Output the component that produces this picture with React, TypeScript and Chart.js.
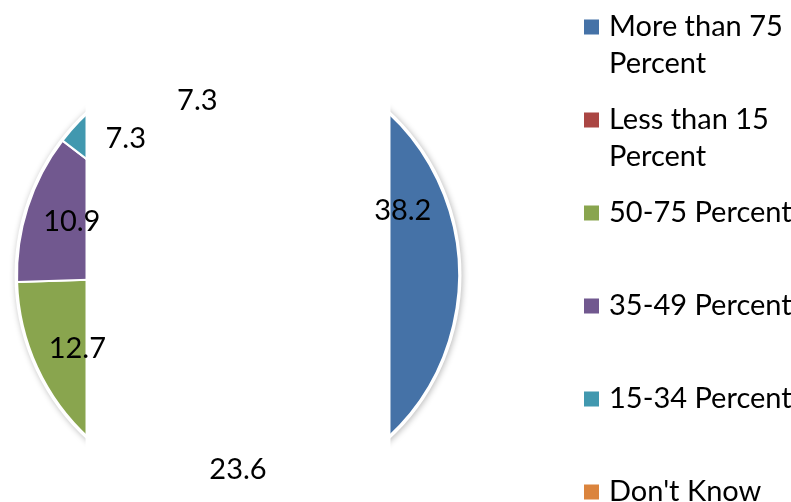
import React, { useEffect, useRef } from "react";
import { Chart, registerables } from "chart.js";

Chart.register(...registerables);

// Share of respondents by category (percent)
const categories = [
  "More than 75 Percent",
  "Less than 15 Percent",
  "50-75 Percent",
  "35-49 Percent",
  "15-34 Percent",
  "Don't Know",
];
const shares = [38.2, 23.6, 12.7, 10.9, 7.3, 7.3];
const sliceColors = ["#4572A7", "#AA4643", "#89A54E", "#71588F", "#4198AF", "#DB843D"];

const FONT = "Lato, 'Open Sans', sans-serif";
const FONT_SIZE = 29;

// Soft halo with a white rim behind the pie
const rimPlugin = {
  id: "rim",
  beforeDatasetsDraw(chart: any) {
    const arc = chart.getDatasetMeta(0).data[0];
    if (!arc) return;
    const { x, y, outerRadius } = arc.getProps(["x", "y", "outerRadius"], true);
    const ctx = chart.ctx;
    ctx.save();
    ctx.shadowColor = "rgba(0,0,0,0.28)";
    ctx.shadowBlur = 6;
    ctx.shadowOffsetX = 1;
    ctx.shadowOffsetY = 1;
    ctx.fillStyle = "#ffffff";
    ctx.beginPath();
    ctx.arc(x, y, outerRadius + 2.5, 0, Math.PI * 2);
    ctx.fill();
    ctx.restore();
  },
};

// White panel across the middle of the pie, then the value labels on top
const panelAndLabelsPlugin = {
  id: "panelAndLabels",
  afterDatasetsDraw(chart: any, _args: any, opts: any) {
    const meta = chart.getDatasetMeta(0);
    const first = meta.data[0];
    if (!first) return;
    const { x: cx, outerRadius: r } = first.getProps(["x", "outerRadius"], true);
    const ctx = chart.ctx;
    ctx.save();
    const half = r * opts.panelRatio;
    ctx.fillStyle = "#ffffff";
    ctx.fillRect(cx - half, 0, half * 2, chart.height);

    ctx.fillStyle = "#000000";
    ctx.font = `${FONT_SIZE}px ${FONT}`;
    ctx.textAlign = "center";
    ctx.textBaseline = "middle";
    const values = chart.data.datasets[0].data as number[];
    meta.data.forEach((el: any, i: number) => {
      const p = el.getProps(["x", "y", "startAngle", "endAngle", "outerRadius"], true);
      const mid = (p.startAngle + p.endAngle) / 2;
      const k = opts.labelRatios[i] ?? 0.8;
      const lx = p.x + Math.cos(mid) * p.outerRadius * k;
      const ly = p.y + Math.sin(mid) * p.outerRadius * k;
      ctx.fillText(values[i].toFixed(1), lx, ly);
    });
    ctx.restore();
  },
};

// Legend drawn at the right, one fixed-height slot per category, text wrapped
const sideLegendPlugin = {
  id: "sideLegend",
  afterDraw(chart: any, _args: any, opts: any) {
    const ctx = chart.ctx;
    const labels = chart.data.labels as string[];
    const colors = chart.data.datasets[0].backgroundColor as string[];
    ctx.save();
    ctx.font = `${FONT_SIZE}px ${FONT}`;
    ctx.textBaseline = "middle";
    ctx.textAlign = "left";
    const maxW = chart.width - opts.textX + 8;
    labels.forEach((label, i) => {
      const y0 = opts.top + opts.slot * i;
      ctx.fillStyle = colors[i];
      ctx.fillRect(opts.boxX, y0 - opts.box / 2, opts.box, opts.box);
      const words = label.split(" ");
      const lines: string[] = [];
      let cur = "";
      words.forEach((w) => {
        const test = cur ? cur + " " + w : w;
        if (ctx.measureText(test).width > maxW && cur) {
          lines.push(cur);
          cur = w;
        } else cur = test;
      });
      if (cur) lines.push(cur);
      ctx.fillStyle = "#000000";
      lines.forEach((ln, j) => ctx.fillText(ln, opts.textX, y0 + j * opts.lineHeight));
    });
    ctx.restore();
  },
};

export default function App() {
  const canvasRef = useRef<HTMLCanvasElement | null>(null);

  useEffect(() => {
    if (!canvasRef.current) return;
    const chart = new Chart(canvasRef.current, {
      type: "pie",
      data: {
        labels: categories,
        datasets: [
          {
            data: shares,
            backgroundColor: sliceColors,
            borderColor: "#ffffff",
            borderWidth: 2,
          },
        ],
      },
      options: {
        responsive: false,
        animation: false,
        layout: { padding: { left: 16, top: 53, right: 331, bottom: 5 } },
        plugins: {
          legend: { display: false },
          tooltip: { enabled: false },
          panelAndLabels: {
            panelRatio: 0.69,
            labelRatios: [0.8, 0.88, 0.8, 0.79, 0.8, 0.81],
          },
          sideLegend: {
            boxX: 584,
            box: 15,
            textX: 609,
            top: 27,
            slot: 93,
            lineHeight: 37,
          },
        } as any,
      },
      plugins: [rimPlugin, panelAndLabelsPlugin, sideLegendPlugin],
    });
    return () => chart.destroy();
  }, []);

  return (
    <div style={{ position: "fixed", left: 0, top: 0, width: 791, height: 502, background: "#fff" }}>
      <canvas ref={canvasRef} width={791} height={502} style={{ display: "block" }} />
    </div>
  );
}
